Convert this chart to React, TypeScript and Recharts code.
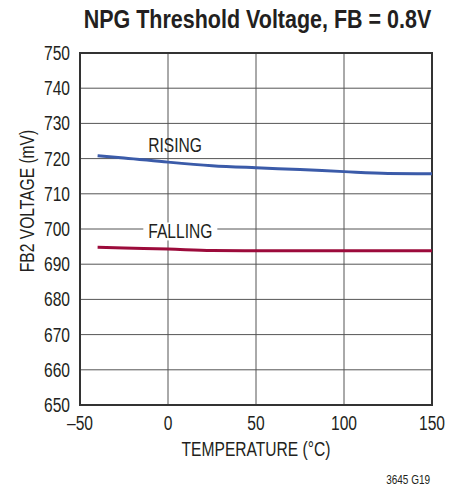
import React from 'react';
import { LineChart, Line, XAxis, YAxis, CartesianGrid, ReferenceArea, ReferenceDot } from 'recharts';

const temps = [-40, -25, 0, 25, 50, 75, 100, 125, 150];
const rising = [720.8, 720.2, 719.0, 718.0, 717.4, 716.9, 716.3, 715.8, 715.7];
const falling = [694.8, 694.6, 694.3, 693.9, 693.8, 693.8, 693.8, 693.8, 693.8];
const xTicks = [-50, 0, 50, 100, 150];
const yTicks = [650, 660, 670, 680, 690, 700, 710, 720, 730, 740, 750];

const data = temps.map((t, i) => ({ t, rising: rising[i], falling: falling[i] }));

const FONT = '"Liberation Sans", Arial, Helvetica, sans-serif';
const TXT = '#231f20';
const SX = 0.8;

const NT = ({ x, y, anchor = 'middle', size = 19.5, weight = 'normal', rotate = 0, sx = SX, children }: any) => (
  <text
    transform={`translate(${x},${y})${rotate ? ` rotate(${rotate})` : ''} scale(${sx},1)`}
    x={0}
    y={0}
    textAnchor={anchor}
    fontSize={size}
    fontWeight={weight}
    fontFamily={FONT}
    fill={TXT}
  >
    {children}
  </text>
);

const YTick = (props: any) => {
  const { x, y, payload } = props;
  return <NT x={x} y={y + 7} anchor="end">{String(payload.value)}</NT>;
};

const XTick = (props: any) => {
  const { x, y, payload } = props;
  return <NT x={x} y={y + 15} anchor="middle">{String(payload.value).replace('-', '\u2013')}</NT>;
};

const LabelShape = (text: string, bg: boolean) => (props: any) => {
  const { cx, cy } = props;
  return (
    <g>
      {bg && <rect x={cx - 37} y={cy - 9} width={74} height={18} fill="#fff" />}
      <NT x={cx} y={cy + 7}>{text}</NT>
    </g>
  );
};

export default function App() {
  return (
    <div style={{ position: 'absolute', left: 0, top: 0, width: 451, height: 488, background: '#fff' }}>
      <LineChart width={451} height={488} data={data} margin={{ top: 53, right: 19, left: 0, bottom: 0 }}>
        <CartesianGrid stroke="#555" strokeWidth={1} />
        <XAxis
          dataKey="t"
          type="number"
          domain={[-50, 150]}
          ticks={xTicks}
          height={83}
          tickLine={false}
          tickSize={0}
          tickMargin={10}
          axisLine={false}
          tick={XTick}
        />
        <YAxis
          type="number"
          domain={[650, 750]}
          ticks={yTicks}
          width={80}
          tickLine={false}
          tickSize={0}
          tickMargin={10}
          axisLine={false}
          tick={YTick}
        />
        <ReferenceArea x1={-50} x2={150} y1={650} y2={750} fill="none" stroke="#333" strokeWidth={2} />
        <Line type="monotone" dataKey="rising" stroke="#3b5ba9" strokeWidth={3} dot={false} isAnimationActive={false} />
        <Line type="monotone" dataKey="falling" stroke="#9c0b3b" strokeWidth={3} dot={false} isAnimationActive={false} />
        <ReferenceDot x={4} y={724} r={0} shape={LabelShape('RISING', false)} />
        <ReferenceDot x={7} y={699.3} r={0} shape={LabelShape('FALLING', true)} />
      </LineChart>
      <svg width={451} height={488} style={{ position: 'absolute', left: 0, top: 0, pointerEvents: 'none' }}>
        <NT x={257.5} y={28} size={25} weight="bold" sx={0.86}>NPG Threshold Voltage, FB = 0.8V</NT>
        <NT x={256} y={456}>TEMPERATURE (°C)</NT>
        <NT x={34} y={201} rotate={-90}>FB2 VOLTAGE (mV)</NT>
        <NT x={430} y={484} anchor="end" size={12.5}>3645 G19</NT>
      </svg>
    </div>
  );
}
